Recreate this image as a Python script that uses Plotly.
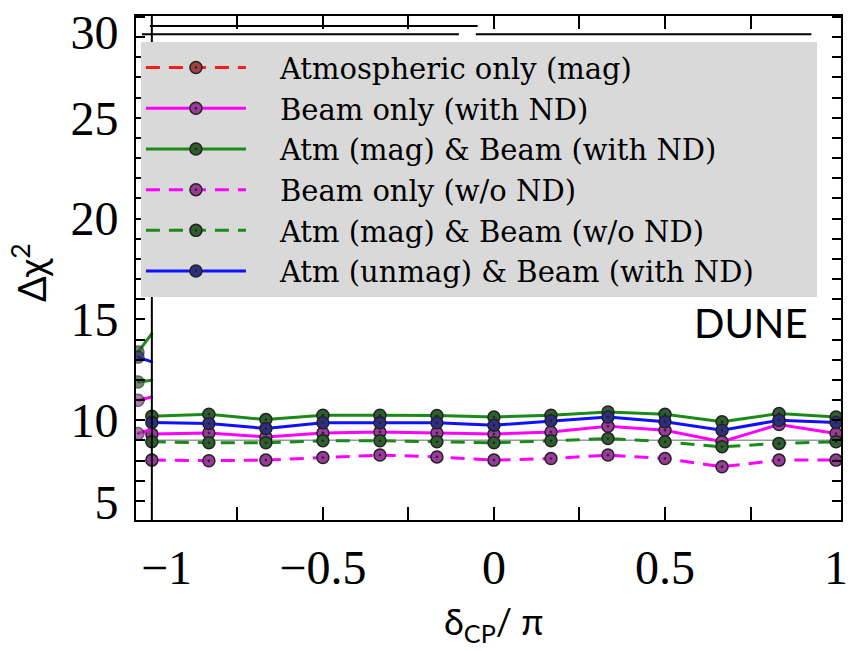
import plotly.graph_objects as go

# ---------------- data ----------------
delta_cp = [-1, -5/6, -2/3, -1/2, -1/3, -1/6, 0, 1/6, 1/3, 1/2, 2/3, 5/6, 1]

atm_only_mag = [None]  # not visible in the plotted range
beam_with_nd = [9.31, 9.37, 9.17, 9.37, 9.42, 9.37, 9.31, 9.42, 9.70, 9.50, 8.93, 9.79, 9.34]
atm_mag_beam_with_nd = [10.20, 10.30, 10.03, 10.25, 10.25, 10.23, 10.16, 10.25, 10.41, 10.29, 9.92, 10.33, 10.16]
beam_wo_nd = [8.02, 7.99, 8.02, 8.15, 8.27, 8.18, 8.02, 8.10, 8.27, 8.10, 7.69, 8.02, 8.02]
atm_mag_beam_wo_nd = [8.93, 8.88, 8.88, 8.98, 8.98, 8.93, 8.88, 8.98, 9.09, 8.93, 8.68, 8.85, 8.93]
atm_unmag_beam_with_nd = [9.89, 9.84, 9.59, 9.87, 9.87, 9.87, 9.75, 9.97, 10.16, 9.92, 9.50, 10.00, 9.89]

# fragments of an underlying (overlaid) panel visible at the far left
frag_x = [-1.0405, -1.0]
frag_beam_with_nd = [10.99, 11.15]
frag_atm_mag_beam_with_nd = [13.38, 14.29]
frag_beam_wo_nd = [9.34, 9.55]
frag_atm_mag_beam_wo_nd = [11.90, 11.98]
frag_atm_unmag_beam_with_nd = [13.13, 12.89]

three_sigma = 9
sigma_x = [-1, 1.0145]

x_tick_vals = [-0.957, -0.5, 0, 0.5, 1.0]
x_tick_text = ["\u22121", "\u22120.5", "0", "0.5", "1"]
x_minor_ticks = [-0.75, -0.5, -0.25, 0, 0.25, 0.5, 0.75]
y_tick_vals = [5.94, 10, 15, 20, 25, 29.26]
y_tick_text = ["5", "10", "15", "20", "25", "30"]
y_minor_ticks = list(range(6, 31))

names = ["Atmospheric only (mag)", "Beam only (with ND)", "Atm (mag) & Beam (with ND)",
         "Beam only (w/o ND)", "Atm (mag) & Beam (w/o ND)", "Atm (unmag) & Beam (with ND)"]

# ---------------- styles ----------------
RED, MAG, GRN, BLU = "#ff1a1a", "#ff00ff", "#1b8a1b", "#1010ff"
MRED, MMAG, MGRN, MBLU = "#a04040", "#9a3a9a", "#2e5e2e", "#2e2e80"
DASH = "14px,9px"

series = [
    (atm_only_mag, RED, MRED, "dash"),
    (beam_with_nd, MAG, MMAG, "solid"),
    (atm_mag_beam_with_nd, GRN, MGRN, "solid"),
    (beam_wo_nd, MAG, MMAG, "dash"),
    (atm_mag_beam_wo_nd, GRN, MGRN, "dash"),
    (atm_unmag_beam_with_nd, BLU, MBLU, "solid"),
]
frags = [
    (frag_beam_with_nd, MAG, MMAG, "solid"),
    (frag_atm_mag_beam_with_nd, GRN, MGRN, "solid"),
    (frag_beam_wo_nd, MAG, MMAG, "dash"),
    (frag_atm_mag_beam_wo_nd, GRN, MGRN, "dash"),
    (frag_atm_unmag_beam_with_nd, BLU, MBLU, "solid"),
]

fig = go.Figure()

fig.add_trace(go.Scatter(x=sigma_x, y=[three_sigma] * len(sigma_x), mode="lines",
                         line=dict(color="#9a9a9a", width=1.5), showlegend=False,
                         hoverinfo="skip"))

longest = max(names, key=len)
for (vals, col, mcol, dash), name in zip(series, names):
    xs = delta_cp if vals[0] is not None else [None]
    label = "\u2003" + name + ("\u2003\u2003" if name == longest else "")
    fig.add_trace(go.Scatter(
        x=xs, y=vals, name=label, mode="lines+markers",
        line=dict(color=col, width=3, dash=DASH if dash == "dash" else "solid"),
        marker=dict(symbol="circle-dot", size=12, color=mcol,
                    line=dict(color="#222222", width=1.5)),
    ))

for vals, col, mcol, dash in frags:
    fig.add_trace(go.Scatter(
        x=frag_x, y=vals, mode="lines+markers", showlegend=False, hoverinfo="skip",
        line=dict(color=col, width=3, dash=DASH if dash == "dash" else "solid"),
        marker=dict(symbol="circle-dot", size=[12, 0], color=mcol,
                    line=dict(color="#222222", width=1.5)),
    ))

XR = [-1.0463, 1.0145]
YR = [5.05, 30.05]
tickfont = dict(family="Liberation Serif", size=48, color="black")

fig.update_layout(
    width=854, height=651,
    margin=dict(l=136, r=6, t=15, b=131),
    paper_bgcolor="white", plot_bgcolor="white",
    xaxis=dict(range=XR, showgrid=False, zeroline=False, showline=True, linecolor="black",
               linewidth=2, mirror="ticks", ticks="inside", ticklen=0,
               tickmode="array", tickvals=x_tick_vals, ticktext=x_tick_text,
               tickfont=tickfont, ticklabelstandoff=4,
               minor=dict(tickmode="array", tickvals=x_minor_ticks, ticks="inside",
                          ticklen=13, tickwidth=1.5, tickcolor="black")),
    yaxis=dict(range=YR, showgrid=False, zeroline=False, showline=True, linecolor="black",
               linewidth=2, mirror="ticks", ticks="inside", ticklen=0,
               tickmode="array", tickvals=y_tick_vals, ticktext=y_tick_text,
               tickfont=tickfont, ticklabelstandoff=6,
               minor=dict(tickmode="array", tickvals=y_minor_ticks, ticks="inside",
                          ticklen=9, tickwidth=1.5, tickcolor="black")),
    legend=dict(x=0.007, y=0.948, xanchor="left", yanchor="top", bgcolor="#d9d9d9",
                borderwidth=0, font=dict(family="DejaVu Serif", size=29, color="black"),
                itemwidth=100, tracegroupgap=0),
    showlegend=True,
)

# inner frame line of the overlaid panel and stray frame lines near the top
fig.add_shape(type="line", xref="x", yref="paper", x0=-1, x1=-1, y0=0, y1=1,
              line=dict(color="black", width=2))
fig.add_shape(type="line", xref="paper", yref="paper", x0=0.0197, x1=0.4846, y0=0.980, y1=0.980,
              line=dict(color="black", width=2))
fig.add_shape(type="line", xref="paper", yref="paper", x0=0.0084, x1=0.458, y0=0.964, y1=0.964,
              line=dict(color="black", width=2))
fig.add_shape(type="line", xref="paper", yref="paper", x0=0.482, x1=0.958, y0=0.964, y1=0.964,
              line=dict(color="black", width=2))

fig.add_annotation(text="DUNE", xref="paper", yref="paper", x=0.871, y=0.390,
                   xanchor="center", yanchor="middle",
                   showarrow=False, font=dict(family="Lato", size=40, color="black"))
fig.add_annotation(text="\u03b4<sub>CP</sub>/ \u03c0", xref="paper", yref="paper", x=0.507, y=-0.258,
                   xanchor="center", yanchor="bottom",
                   showarrow=False, font=dict(family="Lato", size=36, color="black"))
fig.add_annotation(text="\u0394\u03c7<sup>2</sup>", xref="paper", yref="paper", x=-0.152, y=0.49,
                   xanchor="center", yanchor="middle",
                   showarrow=False, textangle=-90, font=dict(family="Lato", size=38, color="black"))

fig.write_html("out.html")
